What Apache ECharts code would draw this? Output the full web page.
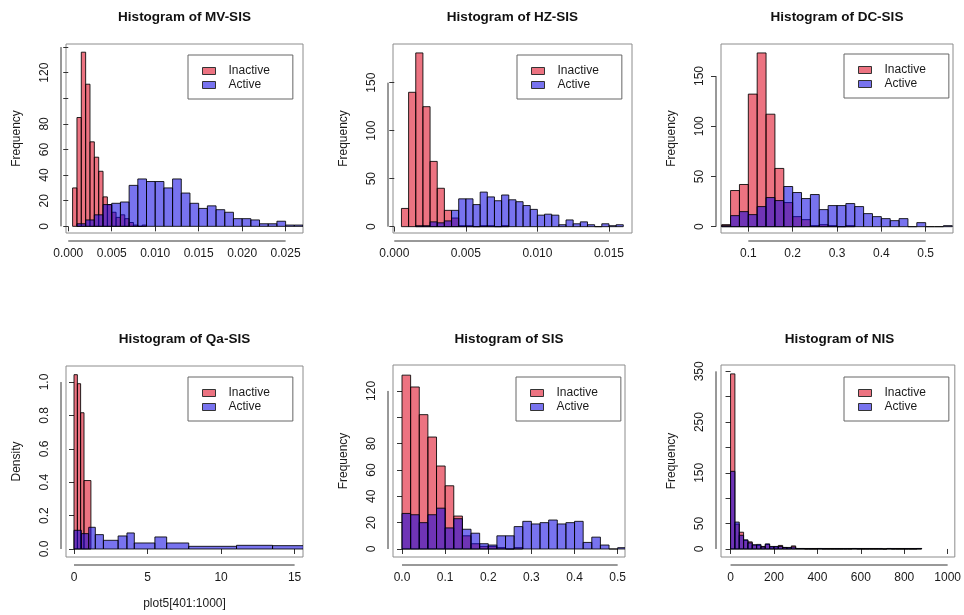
<!DOCTYPE html>
<html><head><meta charset="utf-8">
<script src="https://cdn.jsdelivr.net/npm/echarts@6/dist/echarts.min.js"></script>
<style>html,body{margin:0;padding:0;background:#fff}#c{width:964px;height:615px}</style>
</head><body><div id="c"></div>
<script>
// ---------------- DATA ----------------
// MV-SIS (frequency)
const mvInactiveStart = 0.0005, mvInactiveWidth = 0.0005;
const mvInactiveCounts = [30, 85, 136, 111, 66, 54, 43, 23, 17, 11, 7, 9, 6, 3, 1, 0, 1];
const mvActiveStart = 0.001, mvActiveWidth = 0.001;
const mvActiveCounts = [2, 5, 9, 17, 18, 19, 32, 37, 35, 35, 30, 37, 26, 18, 14, 16, 13, 11, 6, 6, 5, 2, 2, 4, 1, 1];
const mvXTicks = [0, 0.005, 0.010, 0.015, 0.020, 0.025];
const mvXLabels = ['0.000', '0.005', '0.010', '0.015', '0.020', '0.025'];
const mvYTicks = [0, 20, 40, 60, 80, 100, 120, 140];
const mvYLabels = [0, 20, 40, 60, 80, 120];

// HZ-SIS (frequency)
const hzInactiveStart = 0.0005, hzInactiveWidth = 0.0005;
const hzInactiveCounts = [19, 140, 181, 125, 68, 40, 17, 9, 1, 1, 0, 1, 1, 0, 1];
const hzActiveStart = 0.0015, hzActiveWidth = 0.0005;
const hzActiveCounts = [1, 1, 5, 4, 6, 17, 29, 29, 23, 36, 31, 27, 33, 28, 26, 22, 18, 12, 13, 12, 2, 7, 3, 5, 2, 0, 3, 1, 2];
const hzXTicks = [0, 0.005, 0.010, 0.015];
const hzXLabels = ['0.000', '0.005', '0.010', '0.015'];
const hzYTicks = [0, 50, 100, 150];
const hzYLabels = [0, 50, 100, 150];

// DC-SIS (frequency)
const dcInactiveStart = 0.04, dcInactiveWidth = 0.02;
const dcInactiveCounts = [2, 36, 42, 132, 173, 112, 58, 24, 10, 7, 1, 2, 1, 0, 1];
const dcActiveStart = 0.04, dcActiveWidth = 0.02;
const dcActiveCounts = [1, 11, 15, 12, 20, 29, 26, 40, 34, 28, 32, 17, 21, 21, 23, 20, 13, 10, 8, 6, 8, 0, 4, 0, 0, 1];
const dcXTicks = [0.1, 0.2, 0.3, 0.4, 0.5];
const dcXLabels = ['0.1', '0.2', '0.3', '0.4', '0.5'];
const dcYTicks = [0, 50, 100, 150];
const dcYLabels = [0, 50, 100, 150];

// Qa-SIS (density, unequal bins)
const qaInactiveEdges = [0, 0.23, 0.45, 0.68, 1.15];
const qaInactiveDensity = [1.044, 0.99, 0.816, 0.41];
const qaActiveEdges = [0, 0.5, 1.0, 1.45, 2.0, 3.0, 3.6, 4.1, 5.5, 6.3, 7.8, 11.05, 13.5, 15.6];
const qaActiveDensity = [0.112, 0.092, 0.13, 0.086, 0.052, 0.078, 0.096, 0.036, 0.072, 0.036, 0.016, 0.022, 0.02];
const qaXTicks = [0, 5, 10, 15];
const qaXLabels = ['0', '5', '10', '15'];
const qaYTicks = [0, 0.2, 0.4, 0.6, 0.8, 1.0];
const qaYLabels = [0, 0.2, 0.4, 0.6, 0.8, 1.0];

// SIS (frequency)
const sisInactiveStart = 0, sisInactiveWidth = 0.02;
const sisInactiveCounts = [132, 123, 102, 85, 63, 48, 25, 10, 4, 2, 2, 1, 0, 1];
const sisActiveStart = 0, sisActiveWidth = 0.02;
const sisActiveCounts = [27, 26, 20, 26, 31, 16, 23, 15, 12, 4, 3, 10, 10, 17, 21, 19, 20, 22, 19, 20, 21, 5, 9, 3, 0, 1];
const sisXTicks = [0, 0.1, 0.2, 0.3, 0.4, 0.5];
const sisXLabels = ['0.0', '0.1', '0.2', '0.3', '0.4', '0.5'];
const sisYTicks = [0, 20, 40, 60, 80, 100, 120];
const sisYLabels = [0, 20, 40, 60, 80, 120];

// NIS (frequency)
const nisInactiveStart = 0, nisInactiveWidth = 20;
const nisInactiveCounts = [345, 49, 33, 17, 14, 8, 7, 5, 9, 4, 4, 7, 3, 2, 6, 1, 1, 1, 0, 1, 1, 0, 1, 1, 0, 1, 0, 1, 1, 0, 1, 0, 1, 1, 0, 0, 1, 0, 1, 1, 0, 1, 0, 1];
const nisActiveStart = 0, nisActiveWidth = 20;
const nisActiveCounts = [153, 53, 27, 18, 12, 8, 9, 4, 10, 5, 5, 5, 3, 3, 4, 1, 1, 0, 1, 0, 1, 1, 0, 0, 1, 0, 1, 0, 1, 1, 0, 1, 0, 0, 1, 0, 1, 1, 0, 0, 1, 0, 1, 1];
const nisXTicks = [0, 200, 400, 600, 800, 1000];
const nisXLabels = ['0', '200', '400', '600', '800', '1000'];
const nisYTicks = [0, 50, 100, 150, 200, 250, 300, 350];
const nisYLabels = [0, 50, 150, 250, 350];

const titles = ['Histogram of MV-SIS', 'Histogram of HZ-SIS', 'Histogram of DC-SIS',
                'Histogram of Qa-SIS', 'Histogram of SIS', 'Histogram of NIS'];
const seriesNames = ['Inactive', 'Active'];

// ---------------- helpers ----------------
function regularBins(start, width, counts) {
  return counts.map((c, i) => [start + i * width, start + (i + 1) * width, c]);
}
function edgeBins(edges, vals) {
  return vals.map((v, i) => [edges[i], edges[i + 1], v]);
}

const panels = [
  { inactive: regularBins(mvInactiveStart, mvInactiveWidth, mvInactiveCounts),
    active: regularBins(mvActiveStart, mvActiveWidth, mvActiveCounts),
    xT: mvXTicks, xL: mvXLabels, yT: mvYTicks, yL: mvYLabels, yDec: 0, yName: 'Frequency', xName: '',
    box: [66, 44, 237, 189], xr: [-0.00026, 0.027], yr: [-5.2, 142.4], leg: [188, 55] },
  { inactive: regularBins(hzInactiveStart, hzInactiveWidth, hzInactiveCounts),
    active: regularBins(hzActiveStart, hzActiveWidth, hzActiveCounts),
    xT: hzXTicks, xL: hzXLabels, yT: hzYTicks, yL: hzYLabels, yDec: 0, yName: 'Frequency', xName: '',
    box: [393, 44, 239, 189], xr: [-0.00009, 0.01661], yr: [-6.6, 190.3], leg: [517, 55] },
  { inactive: regularBins(dcInactiveStart, dcInactiveWidth, dcInactiveCounts),
    active: regularBins(dcActiveStart, dcActiveWidth, dcActiveCounts),
    xT: dcXTicks, xL: dcXLabels, yT: dcYTicks, yL: dcYLabels, yDec: 0, yName: 'Frequency', xName: '',
    box: [721, 44, 232, 189], xr: [0.0384, 0.5616], yr: [-6.3, 181.9], leg: [844, 54] },
  { inactive: edgeBins(qaInactiveEdges, qaInactiveDensity),
    active: edgeBins(qaActiveEdges, qaActiveDensity),
    xT: qaXTicks, xL: qaXLabels, yT: qaYTicks, yL: qaYLabels, yDec: 1, yName: 'Density', xName: 'plot5[401:1000]',
    box: [66, 366, 237, 191], xr: [-0.544, 15.57], yr: [-0.048, 1.096], leg: [188, 377] },
  { inactive: regularBins(sisInactiveStart, sisInactiveWidth, sisInactiveCounts),
    active: regularBins(sisActiveStart, sisActiveWidth, sisActiveCounts),
    xT: sisXTicks, xL: sisXLabels, yT: sisYTicks, yL: sisYLabels, yDec: 0, yName: 'Frequency', xName: '',
    box: [393, 365, 232, 192], xr: [-0.0209, 0.517], yr: [-6.08, 139.7], leg: [516, 377] },
  { inactive: regularBins(nisInactiveStart, nisInactiveWidth, nisInactiveCounts),
    active: regularBins(nisActiveStart, nisActiveWidth, nisActiveCounts),
    xT: nisXTicks, xL: nisXLabels, yT: nisYTicks, yL: nisYLabels, yDec: 0, yName: 'Frequency', xName: '',
    box: [721, 365, 237, 192], xr: [-44, 1033], yr: [-15.8, 362.5], leg: [844, 377] }
];

// ---------------- styles ----------------
const RED = 'rgba(220, 0, 25, 0.55)';
const BLUE = 'rgba(10, 0, 225, 0.55)';
const BORDER = 'rgba(0,0,0,0.85)';
const FONT = 'Liberation Sans, Arial, Helvetica, sans-serif';
const TXT = '#1a1a1a';

const grid = [], xAxis = [], yAxis = [], series = [], legend = [], graphic = [];

function histRender(fill) {
  return function (params, api) {
    const p0 = api.coord([api.value(0), 0]);
    const p1 = api.coord([api.value(1), api.value(2)]);
    return {
      type: 'rect',
      shape: { x: p0[0], y: p1[1], width: p1[0] - p0[0], height: p0[1] - p1[1] },
      style: { fill: fill, stroke: BORDER, lineWidth: 1 }
    };
  };
}

panels.forEach((p, i) => {
  const [l, t, w, h] = p.box;
  grid.push({ left: l, top: t, width: w, height: h, show: true, borderColor: '#8c8c8c', borderWidth: 1,
              backgroundColor: 'transparent', containLabel: false });
  const xLab = p.xL, xTk = p.xT;
  xAxis.push({
    type: 'value', gridIndex: i, min: p.xr[0], max: p.xr[1], offset: 8,
    axisLine: { show: false }, splitLine: { show: false },
    axisTick: { show: true, customValues: xTk, length: 5, lineStyle: { color: '#333' } },
    axisLabel: { show: true, customValues: xTk, margin: 7, fontSize: 12, color: TXT, fontFamily: FONT,
      formatter: v => { const k = xTk.findIndex(tv => Math.abs(tv - v) < 1e-9); return k >= 0 ? xLab[k] : ''; } },
    name: p.xName, nameLocation: 'middle', nameGap: 33,
    nameTextStyle: { fontSize: 12, color: TXT, fontFamily: FONT }
  });
  const dec = p.yDec;
  yAxis.push({
    type: 'value', gridIndex: i, min: p.yr[0], max: p.yr[1], offset: 5,
    axisLine: { show: false }, splitLine: { show: false },
    axisTick: { show: true, customValues: p.yT, length: 5, lineStyle: { color: '#333' } },
    axisLabel: { show: true, customValues: p.yL, rotate: 90, margin: 10, fontSize: 12, color: TXT, fontFamily: FONT,
      formatter: v => v.toFixed(dec) },
    name: p.yName, nameLocation: 'middle', nameGap: 38, nameRotate: 90,
    nameTextStyle: { fontSize: 12, color: TXT, fontFamily: FONT }
  });
  series.push({
    type: 'custom', name: seriesNames[0], xAxisIndex: i, yAxisIndex: i, clip: true,
    itemStyle: { color: RED, borderColor: BORDER, borderWidth: 1 },
    encode: { x: [0, 1], y: 2 }, data: p.inactive, renderItem: histRender(RED), silent: true
  });
  series.push({
    type: 'custom', name: seriesNames[1], xAxisIndex: i, yAxisIndex: i, clip: true,
    itemStyle: { color: BLUE, borderColor: BORDER, borderWidth: 1 },
    encode: { x: [0, 1], y: 2 }, data: p.active, renderItem: histRender(BLUE), silent: true
  });
  // R-style axis lines spanning first..last tick
  series.push({
    type: 'custom', name: 'axes' + i, xAxisIndex: i, yAxisIndex: i, clip: false, silent: true,
    data: [[0]],
    renderItem: (params, api) => {
      const xa = api.coord([xTk[0], p.yr[0]]);
      const xb = api.coord([xTk[xTk.length - 1], p.yr[0]]);
      const ya = api.coord([p.xr[0], p.yT[0]]);
      const yb = api.coord([p.xr[0], p.yT[p.yT.length - 1]]);
      const sty = { stroke: '#333', lineWidth: 1 };
      return { type: 'group', children: [
        { type: 'line', shape: { x1: xa[0], y1: xa[1] + 8, x2: xb[0], y2: xb[1] + 8 }, style: sty },
        { type: 'line', shape: { x1: ya[0] - 5, y1: ya[1], x2: yb[0] - 5, y2: yb[1] }, style: sty }
      ] };
    }
  });
  legend.push({
    data: seriesNames, orient: 'vertical', left: p.leg[0], top: p.leg[1],
    padding: [9, 23, 7, 14], itemGap: 0, itemWidth: 13, itemHeight: 7, icon: 'rect',
    borderColor: '#666', borderWidth: 1, backgroundColor: '#fff', selectedMode: false,
    itemStyle: { borderColor: '#333', borderWidth: 1 },
    textStyle: { fontSize: 12, color: TXT, fontFamily: FONT, lineHeight: 14, padding: [0, 0, 0, 8] }
  });
  graphic.push({
    type: 'text', x: l + w / 2, y: i < 3 ? 17 : 339, silent: true,
    style: { text: titles[i], textAlign: 'center', textVerticalAlign: 'middle',
             font: 'bold 13.5px ' + FONT, fill: '#111' }
  });
});

const chart = echarts.init(document.getElementById('c'), null, { renderer: 'canvas' });
chart.setOption({ animation: false, backgroundColor: '#fff', grid, xAxis, yAxis, series, legend, graphic });
</script></body></html>
